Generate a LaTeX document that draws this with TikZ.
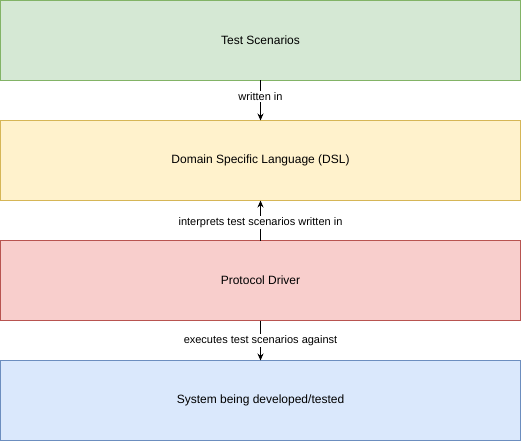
\documentclass[tikz,border=0pt]{standalone}
\usepackage{fontspec}
\setmainfont{Liberation Sans}
\usetikzlibrary{positioning,arrows.meta}
\definecolor{TestFill}{HTML}{D5E8D4}
\definecolor{TestLine}{HTML}{82B366}
\definecolor{DslFill}{HTML}{FFF2CC}
\definecolor{DslLine}{HTML}{D6B656}
\definecolor{DriverFill}{HTML}{F8CECC}
\definecolor{DriverLine}{HTML}{B85450}
\definecolor{SutFill}{HTML}{DAE8FC}
\definecolor{SutLine}{HTML}{6C8EBF}

\begin{document}
\begin{tikzpicture}[x=1pt,y=-1pt,
  layer/.style={minimum width=520pt,minimum height=80pt,inner sep=0pt,
    outer sep=0pt,line width=1pt,font=\fontsize{12}{14}\selectfont},
  link/.style={-{Stealth[length=7pt,width=6pt]},line width=1pt},
  linklabel/.style={fill=white,inner sep=1pt,font=\fontsize{11}{13}\selectfont},
  node distance=40pt]
\useasboundingbox (0,0) rectangle (521,441);
\node[layer,fill=TestFill,draw=TestLine] (scenarios) at (260.5,40.5) {Test Scenarios};
\node[layer,fill=DslFill,draw=DslLine,below=of scenarios] (dsl) {Domain Specific Language (DSL)};
\node[layer,fill=DriverFill,draw=DriverLine,below=of dsl] (driver) {Protocol Driver};
\node[layer,fill=SutFill,draw=SutLine,below=of driver] (sut) {System being developed/tested};
\draw[link] (scenarios) -- node[linklabel,pos=0.4] {written in} (dsl);
\draw[link] (driver) -- node[linklabel,pos=0.45] {interprets test scenarios written in} (dsl);
\draw[link] (driver) -- node[linklabel,pos=0.5] {executes test scenarios against} (sut);
\end{tikzpicture}
\end{document}
